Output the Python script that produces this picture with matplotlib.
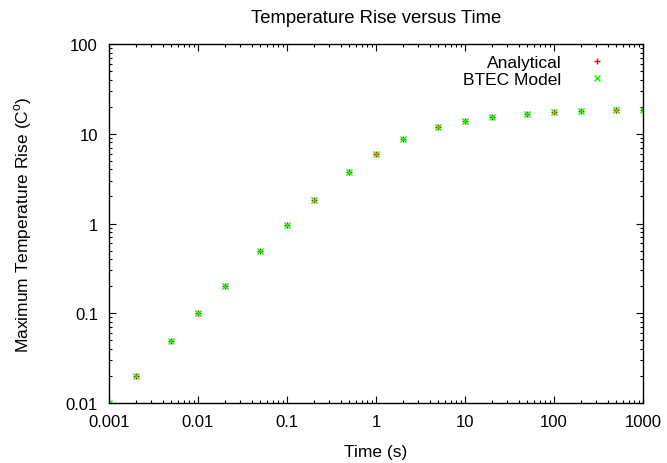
import numpy as np
import matplotlib
matplotlib.use('Agg')
import matplotlib.pyplot as plt
from matplotlib.ticker import LogLocator, FuncFormatter, NullFormatter

# data
waktu = [0.001, 0.002, 0.005, 0.01, 0.02, 0.05, 0.1, 0.2, 0.5, 1, 2, 5,
         10, 20, 50, 100, 200, 500, 1000]
analytical = [0.01, 0.02, 0.049, 0.1, 0.2, 0.49, 0.97, 1.82, 3.78, 6.0,
              8.7, 11.9, 13.9, 15.3, 16.8, 17.4, 17.9, 18.3, 18.5]
btec = [0.01, 0.02, 0.049, 0.1, 0.2, 0.49, 0.97, 1.82, 3.78, 6.0,
        8.7, 11.9, 13.9, 15.3, 16.8, 17.4, 17.9, 18.3, 18.5]

plt.rcParams['font.family'] = ['Liberation Sans', 'DejaVu Sans']
plt.rcParams['font.size'] = 12
plt.rcParams['mathtext.fontset'] = 'custom'
plt.rcParams['mathtext.rm'] = 'Liberation Sans'

fig = plt.figure(figsize=(6.67, 4.64), dpi=100)
ax = fig.add_axes([0.1634, 0.1293, 0.8006, 0.7737])

ax.plot(waktu, analytical, linestyle='none', marker='+', color='#ff0000',
        markersize=5, markeredgewidth=1, label='Analytical')
ax.plot(waktu, btec, linestyle='none', marker='x', color='#00ff00',
        markersize=4.5, markeredgewidth=1, label='BTEC Model')

ax.set_xscale('log')
ax.set_yscale('log')
ax.set_xlim(0.001, 1000)
ax.set_ylim(0.01, 100)

fmt = FuncFormatter(lambda v, p: '%g' % v)
ax.xaxis.set_major_locator(LogLocator(base=10, numticks=20))
ax.yaxis.set_major_locator(LogLocator(base=10, numticks=20))
ax.xaxis.set_major_formatter(fmt)
ax.yaxis.set_major_formatter(fmt)
ax.xaxis.set_minor_locator(LogLocator(base=10, subs=np.arange(2, 10), numticks=20))
ax.yaxis.set_minor_locator(LogLocator(base=10, subs=np.arange(2, 10), numticks=20))
ax.xaxis.set_minor_formatter(NullFormatter())
ax.yaxis.set_minor_formatter(NullFormatter())

ax.tick_params(which='both', direction='in', top=True, right=True, width=0.8)
ax.tick_params(which='major', length=5, pad=8, labelsize=12)
ax.tick_params(which='minor', length=2.5)
for s in ax.spines.values():
    s.set_linewidth(1)

# judul dan label sumbu
ax.text(0.5, 1.075, 'Temperature Rise versus Time', transform=ax.transAxes,
        ha='center', va='center', fontsize=13.3)
ax.set_xlabel('Time (s)', fontsize=12.5)
ax.xaxis.set_label_coords(0.5, -0.134)
ax.xaxis.label.set_va('center')
ax.set_ylabel(r'Maximum Temperature Rise (C$^{\mathrm{o}}$)', fontsize=12.5)
ax.yaxis.set_label_coords(-0.16, 0.5)
ax.yaxis.label.set_va('center')

ax.legend(loc='upper right', frameon=False, markerfirst=False, fontsize=12.5,
          handlelength=1.5, handletextpad=1.3, labelspacing=0.15,
          borderaxespad=0.2, bbox_to_anchor=(0.9575, 1.0))

fig.savefig('out.png', dpi=100)
